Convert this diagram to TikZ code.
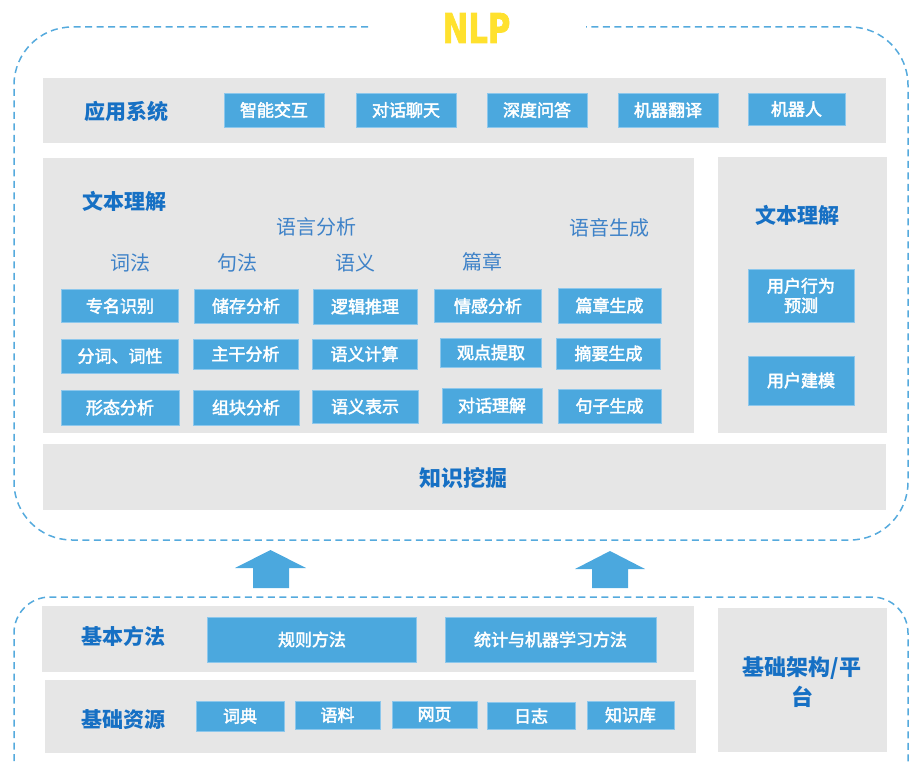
\documentclass[tikz,border=0pt]{standalone}
\usepackage{fontspec}
\setmainfont{Noto Sans CJK SC}
\newfontfamily\boxfont[FakeBold=2.5]{Noto Sans CJK SC}
\newfontfamily\nlpfont[FakeBold=2]{DejaVu Sans}
\definecolor{panelgray}{HTML}{E6E6E6}
\definecolor{boxblue}{HTML}{4BA8DE}
\definecolor{boxedge}{HTML}{8CC7EC}
\definecolor{labblue}{HTML}{1670C4}
\definecolor{subblue}{HTML}{3E82C8}
\definecolor{dashblue}{HTML}{55AADD}
\definecolor{nlpyellow}{HTML}{FFE12E}
\begin{document}
\begin{tikzpicture}[x=1pt,y=-1pt,
  panel/.style={fill=panelgray, draw=none, inner sep=0pt, anchor=north west},
  bbox/.style={fill=boxblue, draw=boxedge, line width=0.6pt, text=white,
    font=\boxfont\fontsize{17}{19}\selectfont, inner sep=0pt, align=center},
  lab/.style={text=labblue, font=\fontsize{21}{30}\selectfont\bfseries, inner sep=0pt, align=center},
  sublab/.style={text=subblue, font=\fontsize{20}{24}\selectfont, inner sep=0pt},
  dashline/.style={draw=dashblue, line width=1.5pt, dash pattern=on 7pt off 4.5pt},
  blockarrow/.style={fill=boxblue, draw=none}]
\useasboundingbox (0,0) rectangle (910,765);
\clip (0,0) rectangle (910,765);

% ---------- outer dashed frames ----------
\draw[dashline, rounded corners=58pt] (368,27) -- (14,27) -- (14,540) -- (908,540) -- (908,27) -- (586,27);
\node[text=nlpyellow, font=\nlpfont\fontsize{41}{41}\selectfont\bfseries, inner sep=0pt] (nlp) at (476.5,28) {\scalebox{0.75}[1]{NLP}};

\draw[dashline, rounded corners=36pt] (14,830) -- (14,597) -- (908,597) -- (908,830);

% ---------- 应用系统 ----------
\node[panel, minimum width=843pt, minimum height=65pt] (app) at (43,78) {};
\node[lab] (applab) at (126,111) {应用系统};
\node[bbox, minimum width=100pt, minimum height=34pt] (a1) at (274,110) {智能交互};
\node[bbox, minimum width=100pt, minimum height=34pt] (a2) at (406,110) {对话聊天};
\node[bbox, minimum width=100pt, minimum height=34pt] (a3) at (537,110) {深度问答};
\node[bbox, minimum width=100pt, minimum height=34pt] (a4) at (668,110) {机器翻译};
\node[bbox, minimum width=97pt, minimum height=32pt] (a5) at (796.5,109) {机器人};

% ---------- 文本理解 main panel ----------
\node[panel, minimum width=651pt, minimum height=275pt] (tu) at (43,158) {};
\node[lab] (tulab) at (124.5,201) {文本理解};
\node[sublab] (yyfx) at (316,227) {语言分析};
\node[sublab] (yysc) at (609,228) {语音生成};
\node[sublab] (cf) at (130,263) {词法};
\node[sublab] (jf) at (237,263) {句法};
\node[sublab] (yy) at (355,263) {语义};
\node[sublab] (pz) at (482,262) {篇章};

\node[bbox, minimum width=117pt, minimum height=33pt] (c11) at (120,306) {专名识别};
\node[bbox, minimum width=104pt, minimum height=34pt] (c12) at (246,306) {储存分析};
\node[bbox, minimum width=104pt, minimum height=35pt] (c13) at (365,306.5) {逻辑推理};
\node[bbox, minimum width=107pt, minimum height=33pt] (c14) at (488,306) {情感分析};
\node[bbox, minimum width=103pt, minimum height=35pt] (c15) at (609.5,305.5) {篇章生成};

\node[bbox, minimum width=117pt, minimum height=34pt] (c21) at (120,356) {分词、词性};
\node[bbox, minimum width=105pt, minimum height=30pt] (c22) at (245.5,354) {主干分析};
\node[bbox, minimum width=105pt, minimum height=30pt] (c23) at (364.5,354) {语义计算};
\node[bbox, minimum width=101pt, minimum height=29pt] (c24) at (491,352.5) {观点提取};
\node[bbox, minimum width=104pt, minimum height=31pt] (c25) at (608.5,353.5) {摘要生成};

\node[bbox, minimum width=118pt, minimum height=35pt] (c31) at (120,407.5) {形态分析};
\node[bbox, minimum width=106pt, minimum height=35pt] (c32) at (246,407.5) {组块分析};
\node[bbox, minimum width=106pt, minimum height=33pt] (c33) at (365,406.5) {语义表示};
\node[bbox, minimum width=100pt, minimum height=35pt] (c34) at (492,405.5) {对话理解};
\node[bbox, minimum width=103pt, minimum height=34pt] (c35) at (609.5,406) {句子生成};

% ---------- right 文本理解 panel ----------
\node[panel, minimum width=169pt, minimum height=276pt] (tu2) at (718,157) {};
\node[lab] (tu2lab) at (797.5,215) {文本理解};
\node[bbox, minimum width=106pt, minimum height=53pt, font=\boxfont\fontsize{17}{19.5}\selectfont] (u1) at (801,295.5) {用户行为\\预测};
\node[bbox, minimum width=106pt, minimum height=49pt] (u2) at (801,380.5) {用户建模};

% ---------- 知识挖掘 ----------
\node[panel, minimum width=843pt, minimum height=66pt] (km) at (43,444) {};
\node[lab, font=\fontsize{22}{26}\selectfont\bfseries] (kmlab) at (463,478) {知识挖掘};

% ---------- block arrows ----------
\fill[blockarrow] (253,588) -- (253,568) -- (235,568) -- (270.5,550) -- (306,568) -- (289,568) -- (289,588) -- cycle;
\fill[blockarrow] (592,588) -- (592,569) -- (575,569) -- (610,551) -- (645,569) -- (628,569) -- (628,588) -- cycle;

% ---------- 基本方法 ----------
\node[panel, minimum width=652pt, minimum height=66pt] (jbff) at (42,606) {};
\node[lab] (jbfflab) at (123,636) {基本方法};
\node[bbox, minimum width=209pt, minimum height=45pt] (m1) at (312,639.5) {规则方法};
\node[bbox, minimum width=211pt, minimum height=45pt] (m2) at (550.5,639.5) {统计与机器学习方法};

% ---------- 基础资源 ----------
\node[panel, minimum width=651pt, minimum height=73pt] (jczy) at (45,680) {};
\node[lab] (jczylab) at (123,720) {基础资源};
\node[bbox, minimum width=88pt, minimum height=30pt] (r1) at (240,716) {词典};
\node[bbox, minimum width=85pt, minimum height=28pt] (r2) at (337.5,715) {语料};
\node[bbox, minimum width=85pt, minimum height=27pt] (r3) at (434.5,714.5) {网页};
\node[bbox, minimum width=88pt, minimum height=27pt] (r4) at (531,716) {日志};
\node[bbox, minimum width=87pt, minimum height=28pt] (r5) at (630.5,715) {知识库};

% ---------- 基础架构/平台 ----------
\node[panel, minimum width=169pt, minimum height=144pt] (jcjg) at (718,608) {};
\node[lab, font=\fontsize{22}{30}\selectfont\bfseries] (jcjglab) at (802,682) {基础架构/平\\台};
\end{tikzpicture}
\end{document}
